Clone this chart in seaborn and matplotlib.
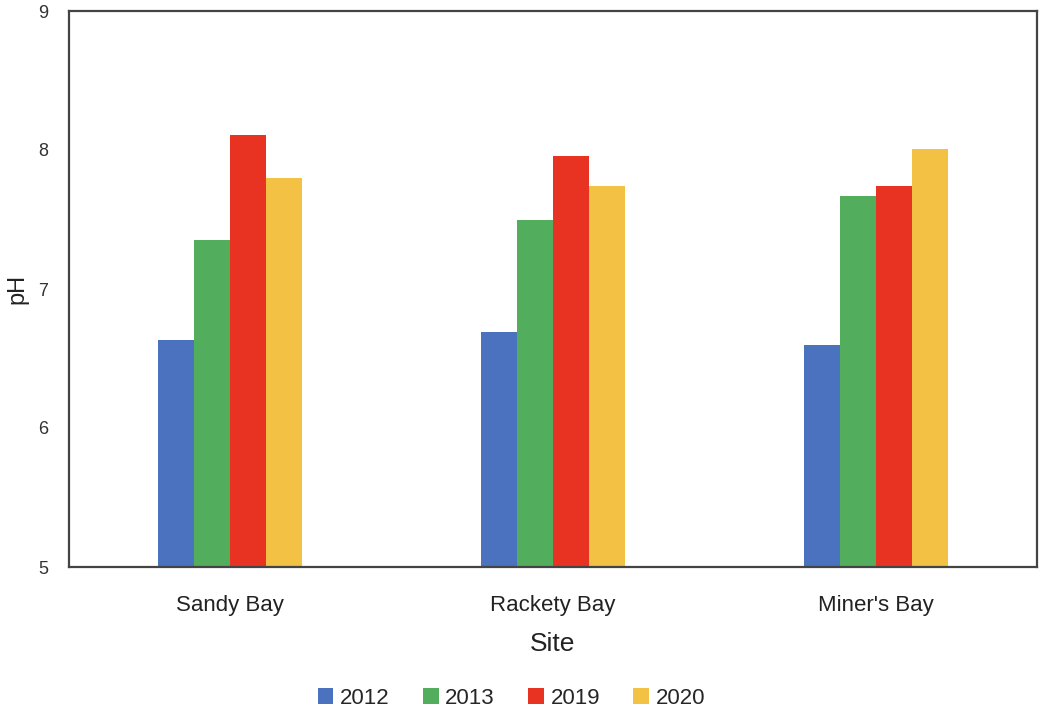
import pandas as pd
import matplotlib as mpl
mpl.use("Agg")
from matplotlib import pyplot as plt
import seaborn as sns

sites = ["Sandy Bay", "Rackety Bay", "Miner's Bay"]
years = ["2012", "2013", "2019", "2020"]
ph_2012 = [6.63, 6.69, 6.60]
ph_2013 = [7.35, 7.50, 7.67]
ph_2019 = [8.11, 7.96, 7.74]
ph_2020 = [7.80, 7.74, 8.01]
colors = ["#4A72BE", "#52AD5C", "#E83323", "#F3C143"]

rows = []
for year, vals in zip(years, [ph_2012, ph_2013, ph_2019, ph_2020]):
    for site, v in zip(sites, vals):
        rows.append({"Site": site, "Year": year, "pH": v})
df = pd.DataFrame(rows)

sns.set_style("white")
plt.rcParams["font.family"] = ["Liberation Sans", "DejaVu Sans"]

fig = plt.figure(figsize=(10.4, 7.13), dpi=100)
ax = fig.add_axes([69 / 1040, 1 - 567 / 713, (1037 - 69) / 1040, (567 - 11) / 713])

sns.barplot(df, x="Site", y="pH", hue="Year", palette=colors, width=0.446,
            saturation=1, linewidth=0, ax=ax)

ax.set_ylim(5, 9)
ax.set_yticks([5, 6, 7, 8, 9])
ax.tick_params(axis="y", labelsize=13, colors="#333333", length=0, pad=15)
ax.tick_params(axis="x", labelsize=16, colors="#222222", length=0, pad=20)
ax.set_xlim(-0.5, 2.5)
ax.set_xlabel("Site", fontsize=19, color="#222222", labelpad=12)
ax.set_ylabel("pH", fontsize=17, color="#222222")
ax.yaxis.set_label_coords(-0.0424, 0.5)
for s in ax.spines.values():
    s.set_color("#444444")
    s.set_linewidth(1.6)

ax.legend(loc="center", bbox_to_anchor=(0.457, -0.236), ncol=4, frameon=False,
          fontsize=16, handlelength=0.7, handleheight=0.7, handletextpad=0.3,
          columnspacing=1.5)

fig.savefig("out.png", dpi=100)
